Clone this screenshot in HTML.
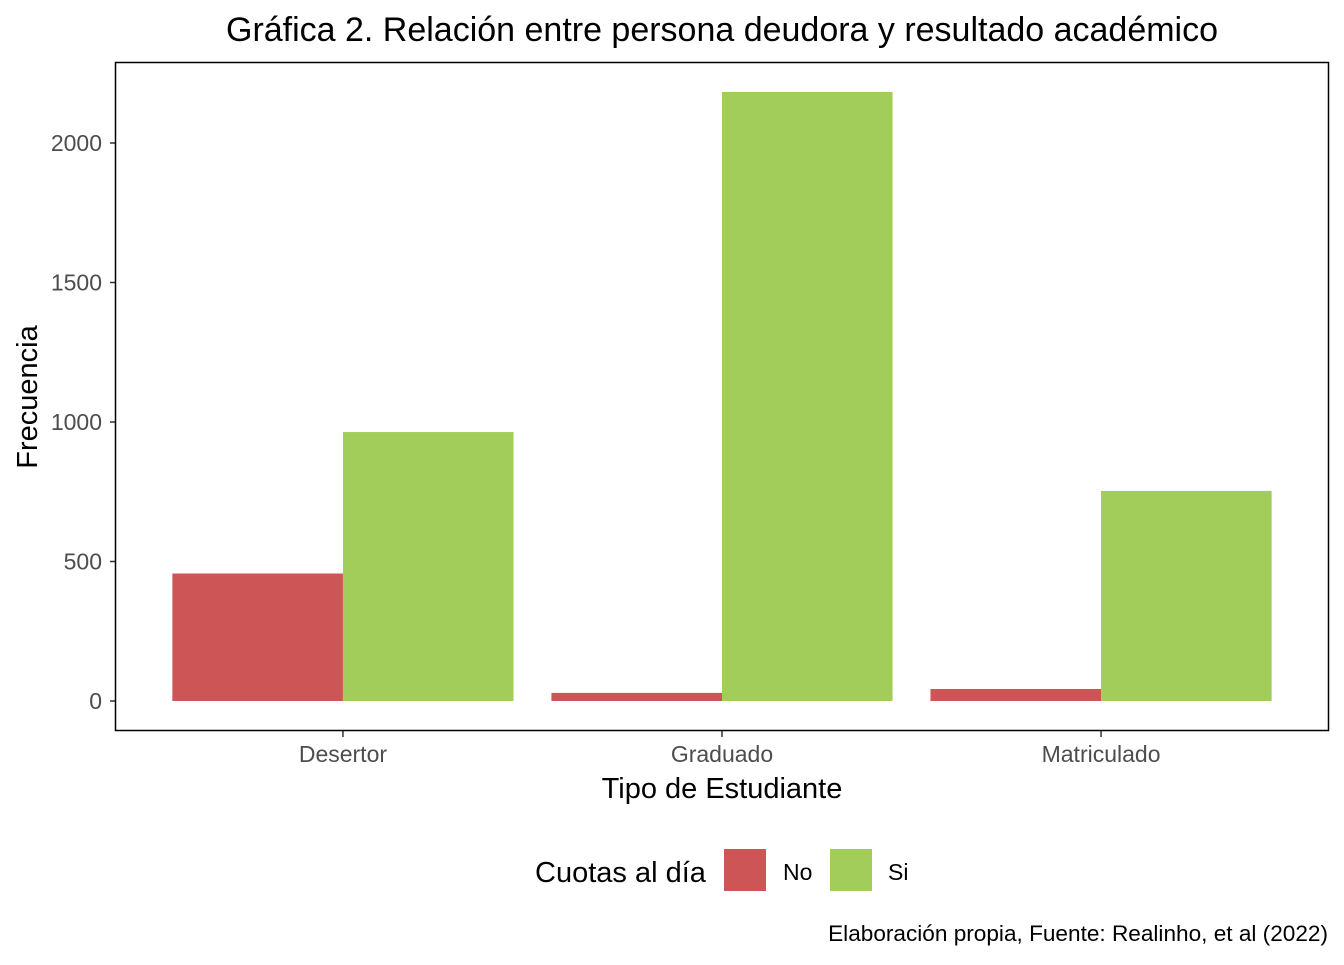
<!DOCTYPE html>
<html><head><meta charset="utf-8"><style>
body{margin:0;background:#fff;width:1344px;height:960px;overflow:hidden}
svg text{font-family:"Liberation Sans",Arial,sans-serif}
</style></head><body>
<svg id="chart" width="1344" height="960" xmlns="http://www.w3.org/2000/svg">
<text x="722" y="41" font-size="34" text-anchor="middle" fill="#000" textLength="992" lengthAdjust="spacingAndGlyphs">Gráfica 2. Relación entre persona deudora y resultado académico</text>
<g id="plot"></g>
<rect x="115.5" y="62.5" width="1213" height="668" fill="none" stroke="#000" stroke-width="1.5"/>
<text transform="translate(37,397) rotate(-90)" font-size="29" text-anchor="middle">Frecuencia</text>
<text x="722" y="798" font-size="29" text-anchor="middle">Tipo de Estudiante</text>
<g>
<text x="535" y="882" font-size="29">Cuotas al día</text>
<rect x="724" y="849" width="42" height="42" fill="#CD5555"/>
<text x="783" y="880" font-size="23">No</text>
<rect x="830" y="849" width="42" height="42" fill="#A2CD5A"/>
<text x="888" y="880" font-size="23">Si</text>
</g>
<text x="1328" y="941" font-size="22.6" text-anchor="end">Elaboración propia, Fuente: Realinho, et al (2022)</text>
</svg>
<script>
const categories = ["Desertor","Graduado","Matriculado"];
const seriesNo = [457, 29, 43];
const seriesSi = [964, 2183, 753];
const yTicks = [0,500,1000,1500,2000];
const ns="http://www.w3.org/2000/svg";
const g=document.getElementById('plot');
const x0=115.5, x1=1328.5;
const unit=(x1-x0)/(categories.length-1+1.2);
function xc(i){return x0+unit*(i+0.6);}
function y(v){return 701-v*(558/2000);}
const bw=unit*0.9/2;
function mk(t,a){const e=document.createElementNS(ns,t);for(const k in a)e.setAttribute(k,a[k]);g.appendChild(e);return e;}
yTicks.forEach(v=>{
 const l=mk('line',{x1:110,x2:115,y1:y(v),y2:y(v),stroke:'#333','stroke-width':1.5});
 
 
 const t=mk('text',{x:102,y:y(v)+8,'font-size':23,'text-anchor':'end',fill:'#4d4d4d'});
 t.textContent=v;
 
 
});
categories.forEach((c,i)=>{
 const cx=xc(i);
 const r1=mk('rect',{x:cx-bw,y:y(seriesNo[i]),width:bw,height:y(0)-y(seriesNo[i]),fill:'#CD5555'});
 
 
 const r2=mk('rect',{x:cx,y:y(seriesSi[i]),width:bw,height:y(0)-y(seriesSi[i]),fill:'#A2CD5A'});
 
 
 const l=mk('line',{x1:cx,x2:cx,y1:731,y2:737,stroke:'#333','stroke-width':1.5});
 
 
 const t=mk('text',{x:cx,y:762,'font-size':23,'text-anchor':'middle',fill:'#4d4d4d'});
 t.textContent=c;
 
 
});
</script>
</body></html>
